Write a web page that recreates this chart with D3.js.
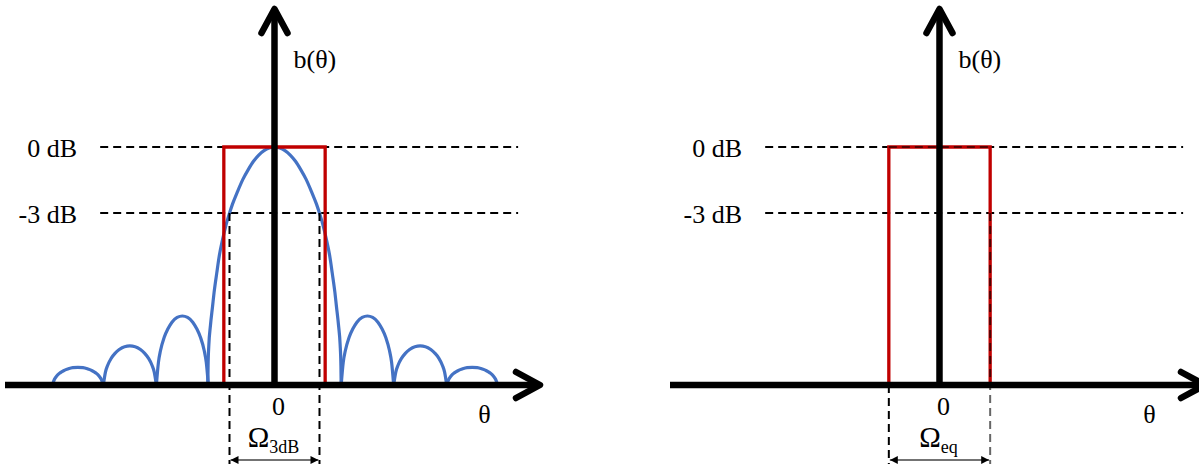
<!DOCTYPE html>
<html>
<head>
<meta charset="utf-8">
<script src="https://cdn.jsdelivr.net/npm/d3@7"></script>
<style>
	body { margin: 0; background: #fff; }
	svg { display: block; }
</style>
</head>
<body>
<div id="vis"></div>
<script>

// level lines (linear amplitude)
var levelLabels = ["0 dB", "-3 dB"];
var levelValues = [1, 0.723];

// beam pattern, theta in lobe-width units, amplitude normalised to main peak
var mainLobe = [
	[-1.27, 0], [-1.265, 0.08], [-1.25, 0.17], [-1.22, 0.25], [-1.18, 0.33], [-1.15, 0.39],
	[-1.10, 0.47], [-1.05, 0.545], [-0.99, 0.61], [-0.92, 0.675], [-0.86, 0.72],
	[-0.80, 0.76], [-0.70, 0.815], [-0.60, 0.865], [-0.50, 0.905], [-0.40, 0.94],
	[-0.30, 0.966], [-0.20, 0.985], [-0.10, 0.996], [0, 1],
	[0.10, 0.996], [0.20, 0.985], [0.30, 0.966], [0.40, 0.94], [0.50, 0.905],
	[0.60, 0.865], [0.70, 0.815], [0.80, 0.76], [0.86, 0.72], [0.92, 0.675],
	[0.99, 0.61], [1.05, 0.545], [1.10, 0.47], [1.15, 0.39], [1.18, 0.33],
	[1.22, 0.25], [1.25, 0.17], [1.265, 0.08], [1.27, 0]
];

// side lobes, outermost left to outermost right
var sideLobes = [
	[[-4.23, 0], [-4.191, 0.024], [-4.152, 0.037], [-4.084, 0.051], [-4.017, 0.060], [-3.939, 0.067], [-3.842, 0.073], [-3.745, 0.074],
	 [-3.648, 0.073], [-3.551, 0.067], [-3.473, 0.060], [-3.406, 0.051], [-3.338, 0.037], [-3.299, 0.024], [-3.26, 0]],
	[[-3.26, 0], [-3.22, 0.054], [-3.179, 0.082], [-3.108, 0.113], [-3.038, 0.133], [-2.957, 0.149], [-2.856, 0.161], [-2.755, 0.164],
	 [-2.654, 0.161], [-2.553, 0.149], [-2.472, 0.133], [-2.402, 0.113], [-2.331, 0.082], [-2.29, 0.054], [-2.25, 0]],
	[[-2.25, 0], [-2.21, 0.096], [-2.171, 0.145], [-2.102, 0.200], [-2.032, 0.235], [-1.953, 0.264], [-1.854, 0.284], [-1.755, 0.290],
	 [-1.656, 0.284], [-1.557, 0.264], [-1.478, 0.235], [-1.409, 0.200], [-1.339, 0.145], [-1.30, 0.096], [-1.26, 0]],
	[[1.27, 0], [1.31, 0.096], [1.35, 0.145], [1.42, 0.200], [1.49, 0.235], [1.57, 0.264], [1.67, 0.284], [1.77, 0.290],
	 [1.87, 0.284], [1.97, 0.264], [2.05, 0.235], [2.12, 0.200], [2.19, 0.145], [2.23, 0.096], [2.27, 0]],
	[[2.27, 0], [2.31, 0.054], [2.351, 0.082], [2.422, 0.113], [2.492, 0.133], [2.573, 0.149], [2.674, 0.161], [2.775, 0.164],
	 [2.876, 0.161], [2.977, 0.149], [3.058, 0.133], [3.129, 0.113], [3.199, 0.082], [3.24, 0.054], [3.28, 0]],
	[[3.28, 0], [3.319, 0.024], [3.358, 0.037], [3.426, 0.051], [3.493, 0.060], [3.571, 0.067], [3.668, 0.073], [3.765, 0.074],
	 [3.862, 0.073], [3.959, 0.067], [4.037, 0.060], [4.104, 0.051], [4.172, 0.037], [4.211, 0.024], [4.25, 0]]
];

// widths
var rectHalfWidth = 0.965;     // equivalent rectangular beam
var halfPowerHalfWidth = 0.857; // -3 dB points

var W = 1199, H = 467;
var blue = "#4472c4", red = "#c00000";
var serif = "'Liberation Serif', 'Times New Roman', serif";

var svg = d3.select("#vis").append("svg")
	.attr("width", W)
	.attr("height", H)
	.attr("font-family", serif);

var defs = svg.append("defs");
defs.append("marker")
	.attr("id", "head")
	.attr("viewBox", "0 0 10 10")
	.attr("refX", 10).attr("refY", 5)
	.attr("markerWidth", 8).attr("markerHeight", 8)
	.attr("markerUnits", "userSpaceOnUse")
	.attr("orient", "auto-start-reverse")
	.append("path")
	.attr("d", "M0,0L10,5L0,10Z")
	.attr("fill", "#000");

function drawPanel (offset, showPattern, subscript) {

	var x = d3.scaleLinear().domain([-5.133, 5.057]).range([5 + offset, 540 + offset]);
	var y = d3.scaleLinear().domain([0, 1]).range([385, 147]);

	var g = svg.append("g");

	// level lines
	levelValues.forEach(function (v, i) {
		g.append("line")
			.attr("x1", x(-3.32)).attr("x2", x(4.64))
			.attr("y1", y(v)).attr("y2", y(v))
			.attr("stroke", "#000")
			.attr("stroke-width", 2)
			.attr("stroke-dasharray", "8,5");

		g.append("text")
			.attr("x", x(-3.76))
			.attr("y", y(v) + 10)
			.attr("text-anchor", "end")
			.attr("font-size", 26)
			.text(levelLabels[i]);
	});

	var line = d3.line()
		.x(function (d) { return x(d[0]); })
		.y(function (d) { return y(d[1]); })
		.curve(d3.curveMonotoneX);

	if (showPattern) {
		g.selectAll(".lobe")
			.data(sideLobes.concat([mainLobe]))
			.enter()
			.append("path")
			.attr("class", "lobe")
			.attr("d", line)
			.attr("fill", "none")
			.attr("stroke", blue)
			.attr("stroke-width", 3.2);
	}

	// rectangle
	g.append("path")
		.attr("d", "M" + x(-rectHalfWidth) + "," + y(0) +
			"V" + y(1) + "H" + x(rectHalfWidth) + "V" + y(0))
		.attr("fill", "none")
		.attr("stroke", red)
		.attr("stroke-width", 3.3);

	if (!showPattern) {
		// dashed top drawn over the red in this panel
		g.append("line")
			.attr("x1", x(-rectHalfWidth)).attr("x2", x(rectHalfWidth))
			.attr("y1", y(1)).attr("y2", y(1))
			.attr("stroke", "#000").attr("stroke-opacity", 0.55)
			.attr("stroke-width", 2)
			.attr("stroke-dasharray", "8,5");
	}

	// width markers
	var hw = showPattern ? halfPowerHalfWidth : rectHalfWidth;
	var xs = [x(-hw), x(hw)];
	xs.forEach(function (xx, i) {
		var top = showPattern ? y(levelValues[1]) : (i == 0 ? y(0) : y(levelValues[1]));
		g.append("line")
			.attr("x1", xx).attr("x2", xx)
			.attr("y1", top).attr("y2", 464)
			.attr("stroke", "#000")
			.attr("stroke-opacity", (!showPattern && i == 1) ? 0.6 : 1)
			.attr("stroke-width", 2)
			.attr("stroke-dasharray", "8,5");
	});

	g.append("line")
		.attr("x1", xs[0] + 1).attr("x2", xs[1] - 1)
		.attr("y1", 460).attr("y2", 460)
		.attr("stroke", "#444")
		.attr("stroke-width", 1.3)
		.attr("marker-start", "url(#head)")
		.attr("marker-end", "url(#head)");

	// axes
	var x0 = x(0);
	var axis = g.append("g")
		.attr("fill", "none")
		.attr("stroke", "#000")
		.attr("stroke-width", 6.5)
		.attr("stroke-linecap", "round")
		.attr("stroke-linejoin", "round");

	axis.append("line")
		.attr("x1", x.range()[0]).attr("x2", x.range()[1] - 3)
		.attr("y1", y(0)).attr("y2", y(0))
		.attr("stroke-linecap", "butt");
	axis.append("path")
		.attr("d", "M" + (x.range()[1] - 24) + "," + (y(0) - 13) +
			"L" + x.range()[1] + "," + y(0) +
			"L" + (x.range()[1] - 24) + "," + (y(0) + 13));

	axis.append("line")
		.attr("x1", x0).attr("x2", x0)
		.attr("y1", y(0)).attr("y2", 12)
		.attr("stroke-linecap", "butt");
	axis.append("path")
		.attr("d", "M" + (x0 - 13) + ",33L" + x0 + ",9L" + (x0 + 13) + ",33");

	// labels
	g.append("text")
		.attr("x", x0 + 19).attr("y", 68)
		.attr("font-size", 26)
		.text("b(θ)");

	g.append("text")
		.attr("x", x0 + 4).attr("y", 415)
		.attr("text-anchor", "middle")
		.attr("font-size", 26)
		.text("0");

	g.append("text")
		.attr("x", x(4.0)).attr("y", 423)
		.attr("text-anchor", "middle")
		.attr("font-size", 26)
		.text("θ");

	var om = g.append("text")
		.attr("x", (xs[0] + xs[1]) / 2 - 1)
		.attr("y", 447)
		.attr("text-anchor", "middle")
		.attr("font-size", 29);
	om.append("tspan").text("Ω");
	om.append("tspan")
		.attr("dy", 6)
		.attr("font-size", 18)
		.text(subscript);
}

drawPanel(0, true, "3dB");
drawPanel(665, false, "eq");

</script>
</body>
</html>
